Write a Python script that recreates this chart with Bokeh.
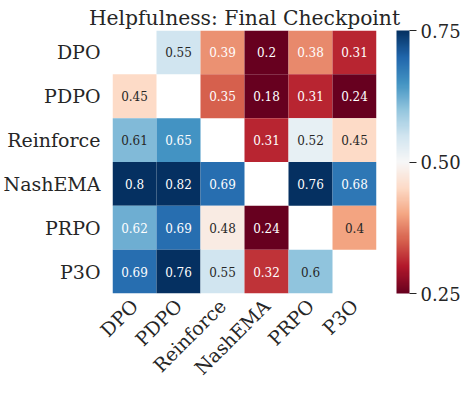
import math
from bokeh.plotting import figure
from bokeh.models import (ColumnDataSource, LinearColorMapper, ColorBar, FixedTicker,
                          PrintfTickFormatter, FactorRange)
from bokeh.core.properties import value
from bokeh.embed import file_html
from bokeh.resources import INLINE

# ---------------- data ----------------
methods = ["DPO", "PDPO", "Reinforce", "NashEMA", "PRPO", "P3O"]
row_dpo = [None, 0.55, 0.386, 0.20, 0.38, 0.31]
row_pdpo = [0.45, None, 0.35, 0.18, 0.31, 0.24]
row_reinforce = [0.61, 0.65, None, 0.31, 0.52, 0.45]
row_nashema = [0.80, 0.82, 0.69, None, 0.76, 0.68]
row_prpo = [0.623, 0.69, 0.48, 0.24, None, 0.40]
row_p3o = [0.69, 0.76, 0.55, 0.32, 0.60, None]
rows = [row_dpo, row_pdpo, row_reinforce, row_nashema, row_prpo, row_p3o]
cbar_ticks = [0.25, 0.50, 0.75]
vmin, vmax = 0.25, 0.75
title_text = "Helpfulness: Final Checkpoint"

# ---------------- palette (matplotlib RdBu) ----------------
rdbu_anchors = ["#67001f", "#b2182b", "#d6604d", "#f4a582", "#fddbc7", "#f7f7f7",
                "#d1e5f0", "#92c5de", "#4393c3", "#2166ac", "#053061"]


def hex2rgb(h):
    return tuple(int(h[i:i + 2], 16) / 255.0 for i in (1, 3, 5))


anchors_rgb = [hex2rgb(h) for h in rdbu_anchors]
N = 256
palette = []
for i in range(N):
    x = i / (N - 1) * (len(anchors_rgb) - 1)
    k = min(int(x), len(anchors_rgb) - 2)
    t = x - k
    a, b = anchors_rgb[k], anchors_rgb[k + 1]
    c = [a[j] + (b[j] - a[j]) * t for j in range(3)]
    palette.append("#%02x%02x%02x" % tuple(int(round(v * 255)) for v in c))


def color_for(v):
    idx = int((v - vmin) / (vmax - vmin) * N)
    idx = max(0, min(N - 1, idx))
    return palette[idx]


def lum(hexc):
    r, g, b = hex2rgb(hexc)

    def lin(c):
        return c / 12.92 if c <= 0.03928 else ((c + 0.055) / 1.055) ** 2.4
    return 0.2126 * lin(r) + 0.7152 * lin(g) + 0.0722 * lin(b)


xs, ys, vals, labels, tcols = [], [], [], [], []
for ri, row in enumerate(rows):
    for ci, v in enumerate(row):
        if v is None:
            continue
        xs.append(methods[ci])
        ys.append(methods[ri])
        vals.append(v)
        labels.append(format(v, ".2g"))
        tcols.append("#262626" if lum(color_for(v)) > 0.408 else "#ffffff")

src = ColumnDataSource(dict(x=xs, y=ys, val=vals, label=labels, tcol=tcols))
mapper = LinearColorMapper(palette=palette, low=vmin, high=vmax)

FONT = "DejaVu Serif"
TXT = "#262626"

p = figure(x_range=FactorRange(factors=methods),
           y_range=FactorRange(factors=list(reversed(methods))),
           frame_width=264, frame_height=263,
           min_border_left=107, min_border_top=30, min_border_right=5, min_border_bottom=5,
           output_backend="svg", toolbar_location=None, title=title_text)

p.rect(x="x", y="y", width=1, height=1, source=src,
       fill_color={"field": "val", "transform": mapper}, line_color=None)
p.text(x="x", y="y", text="label", source=src, text_color="tcol",
       text_align="center", text_baseline="middle",
       text_font=value(FONT), text_font_size=value("12px"))

p.title.text_font = FONT
p.title.text_font_size = "20.3px"
p.title.text_font_style = "normal"
p.title.text_color = TXT
p.title.align = "center"
p.title.standoff = 2

for ax in (p.xaxis, p.yaxis):
    ax.axis_line_color = None
    ax.major_tick_line_color = None
    ax.minor_tick_line_color = None
    ax.major_tick_out = 0
    ax.major_tick_in = 0
    ax.minor_tick_out = 0
    ax.minor_tick_in = 0
    ax.major_label_text_font = FONT
    ax.major_label_text_font_size = "19px"
    ax.major_label_text_color = TXT
p.xaxis.major_label_orientation = math.pi / 4
p.xaxis.major_label_standoff = 9
p.yaxis.major_label_standoff = 12

p.grid.visible = False
p.outline_line_color = None
p.background_fill_color = "white"

cb = ColorBar(color_mapper=mapper, ticker=FixedTicker(ticks=cbar_ticks),
              formatter=PrintfTickFormatter(format="%.2f"),
              width=13, height=263, margin=0, padding=0, location=(20, 0),
              major_tick_in=0, major_tick_out=7, major_tick_line_color=TXT,
              minor_tick_line_color=None, bar_line_color=None,
              major_label_text_font=FONT, major_label_text_font_size="18px",
              major_label_text_color=TXT, label_standoff=4,
              background_fill_color=None, border_line_color=None)
p.add_layout(cb, "right")

open("out.html", "w").write(file_html(p, INLINE))
